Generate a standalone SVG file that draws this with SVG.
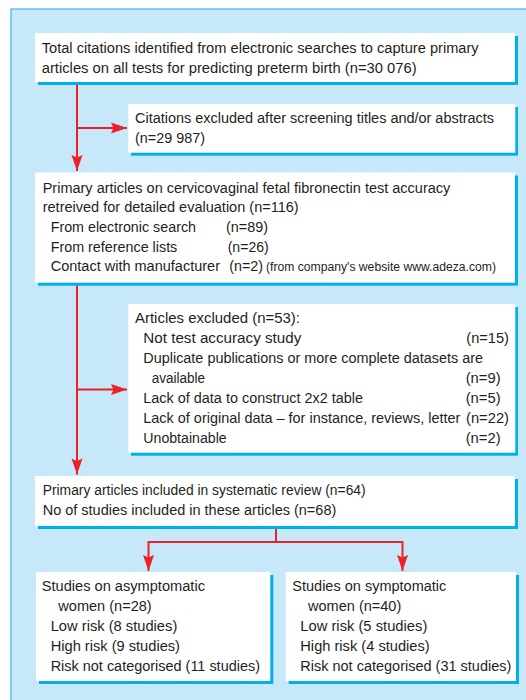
<svg xmlns="http://www.w3.org/2000/svg" width="526" height="700" viewBox="0 0 526 700">
<style>
.panel{fill:#c6e8f8;stroke:#3ab6ea;stroke-width:1.2}
.box{fill:#ffffff}
.sh{fill:#00b1e9}
.t{font-family:"Liberation Sans",Arial,sans-serif;font-size:15.5px;fill:#231f20}
.s{font-family:"Liberation Sans",Arial,sans-serif;font-size:12.5px;fill:#231f20}
.c{fill:none;stroke:#ec2028;stroke-width:2}
</style>
<defs>
<marker id="ah" markerUnits="userSpaceOnUse" markerWidth="18" markerHeight="14" viewBox="-17 -7 18 14" refX="0" refY="0" orient="auto">
<path d="M0,0 L-16,-5.5 L-13.5,0 L-16,5.5 Z" fill="#ec2028"/>
</marker>
</defs>
<rect class="panel" x="11" y="9" width="530" height="700"/>

<g id="connectors">
<path class="c" d="M77,82 V171" marker-end="url(#ah)"/>
<path class="c" d="M77,128 H127" marker-end="url(#ah)"/>
<path class="c" d="M77,283 V474.5" marker-end="url(#ah)"/>
<path class="c" d="M77,389.5 H127" marker-end="url(#ah)"/>
<path class="c" d="M276,526 V542 M148.5,542 H402.5"/>
<path class="c" d="M148.5,541 V571" marker-end="url(#ah)"/>
<path class="c" d="M402.5,541 V571" marker-end="url(#ah)"/>
</g>

<g id="n1">
<rect class="sh" x="38" y="36" width="480" height="49"/>
<rect class="box" x="35" y="33" width="480" height="49"/>
<text class="t" x="41.7" y="52.7" textLength="437" lengthAdjust="spacingAndGlyphs">Total citations identified from electronic searches to capture primary</text>
<text class="t" x="41.7" y="72.5" textLength="375" lengthAdjust="spacingAndGlyphs">articles on all tests for predicting preterm birth (n=30 076)</text>
</g>

<g id="n2">
<rect class="sh" x="131" y="107" width="387" height="48.7"/>
<rect class="box" x="128.3" y="104" width="387" height="48.7"/>
<text class="t" x="135" y="123.3" textLength="359" lengthAdjust="spacingAndGlyphs">Citations excluded after screening titles and/or abstracts</text>
<text class="t" x="135" y="142.8" textLength="70" lengthAdjust="spacingAndGlyphs">(n=29 987)</text>
</g>

<g id="n3">
<rect class="sh" x="38" y="175.5" width="480" height="110.2"/>
<rect class="box" x="35" y="172.5" width="480" height="110.2"/>
<text class="t" x="42.7" y="192.5" textLength="407.6" lengthAdjust="spacingAndGlyphs">Primary articles on cervicovaginal fetal fibronectin test accuracy</text>
<text class="t" x="42.7" y="212" textLength="256" lengthAdjust="spacingAndGlyphs">retreived for detailed evaluation (n=116)</text>
<text class="t" x="50.7" y="231.7" textLength="145.3" lengthAdjust="spacingAndGlyphs">From electronic search</text>
<text class="t" x="226" y="231.7" textLength="42" lengthAdjust="spacingAndGlyphs">(n=89)</text>
<text class="t" x="50.7" y="251.5" textLength="126.6" lengthAdjust="spacingAndGlyphs">From reference lists</text>
<text class="t" x="227.7" y="251.5" textLength="41" lengthAdjust="spacingAndGlyphs">(n=26)</text>
<text class="t" x="50.7" y="271.3" textLength="169.3" lengthAdjust="spacingAndGlyphs">Contact with manufacturer</text>
<text class="t" x="229.3" y="271.3" textLength="33.7" lengthAdjust="spacingAndGlyphs">(n=2)</text>
<text class="s" x="266" y="271.3" textLength="230" lengthAdjust="spacingAndGlyphs">(from company's website www.adeza.com)</text>
</g>

<g id="n4">
<rect class="sh" x="131" y="307" width="387" height="148.7"/>
<rect class="box" x="128.3" y="304" width="387" height="148.7"/>
<text class="t" x="135" y="323.3" textLength="165" lengthAdjust="spacingAndGlyphs">Articles excluded (n=53):</text>
<text class="t" x="143.3" y="343.3" textLength="158" lengthAdjust="spacingAndGlyphs">Not test accuracy study</text>
<text class="t" x="466.3" y="343.3" textLength="42.7" lengthAdjust="spacingAndGlyphs">(n=15)</text>
<text class="t" x="143.3" y="363.3" textLength="339.7" lengthAdjust="spacingAndGlyphs">Duplicate publications or more complete datasets are</text>
<text class="t" x="151.7" y="383.3" textLength="53.3" lengthAdjust="spacingAndGlyphs">available</text>
<text class="t" x="465.7" y="383.3" textLength="35" lengthAdjust="spacingAndGlyphs">(n=9)</text>
<text class="t" x="143.3" y="403.3" textLength="219.7" lengthAdjust="spacingAndGlyphs">Lack of data to construct 2x2 table</text>
<text class="t" x="465.7" y="403.3" textLength="35" lengthAdjust="spacingAndGlyphs">(n=5)</text>
<text class="t" x="143.3" y="423.3" textLength="317" lengthAdjust="spacingAndGlyphs" style="font-size:14.5px">Lack of original data – for instance, reviews, letter</text>
<text class="t" x="466" y="423.3" textLength="43" lengthAdjust="spacingAndGlyphs">(n=22)</text>
<text class="t" x="143.3" y="443.3" textLength="83.4" lengthAdjust="spacingAndGlyphs">Unobtainable</text>
<text class="t" x="465.7" y="443.3" textLength="35" lengthAdjust="spacingAndGlyphs">(n=2)</text>
</g>

<g id="n5">
<rect class="sh" x="38" y="479" width="480" height="50"/>
<rect class="box" x="35" y="476" width="480" height="50"/>
<text class="t" x="42.7" y="495" textLength="323" lengthAdjust="spacingAndGlyphs">Primary articles included in systematic review (n=64)</text>
<text class="t" x="42.7" y="514.5" textLength="293.6" lengthAdjust="spacingAndGlyphs">No of studies included in these articles (n=68)</text>
</g>

<g id="n6">
<rect class="sh" x="39" y="575" width="234.3" height="109"/>
<rect class="box" x="36" y="572" width="234.3" height="109"/>
<text class="t" x="41.7" y="590.7" textLength="163.3" lengthAdjust="spacingAndGlyphs">Studies on asymptomatic</text>
<text class="t" x="58.3" y="610.7" textLength="93.4" lengthAdjust="spacingAndGlyphs">women (n=28)</text>
<text class="t" x="50.7" y="630.7" textLength="126.6" lengthAdjust="spacingAndGlyphs">Low risk (8 studies)</text>
<text class="t" x="50.7" y="650.7" textLength="129.3" lengthAdjust="spacingAndGlyphs">High risk (9 studies)</text>
<text class="t" x="50.7" y="670.7" textLength="209.3" lengthAdjust="spacingAndGlyphs">Risk not categorised (11 studies)</text>
</g>

<g id="n7">
<rect class="sh" x="288.7" y="575" width="230.3" height="109"/>
<rect class="box" x="285.7" y="572" width="230.3" height="109"/>
<text class="t" x="292.3" y="590.7" textLength="154" lengthAdjust="spacingAndGlyphs">Studies on symptomatic</text>
<text class="t" x="308" y="610.7" textLength="93.3" lengthAdjust="spacingAndGlyphs">women (n=40)</text>
<text class="t" x="300.3" y="630.7" textLength="127" lengthAdjust="spacingAndGlyphs">Low risk (5 studies)</text>
<text class="t" x="300.3" y="650.7" textLength="129.4" lengthAdjust="spacingAndGlyphs">High risk (4 studies)</text>
<text class="t" x="300.3" y="670.7" textLength="211" lengthAdjust="spacingAndGlyphs">Risk not categorised (31 studies)</text>
</g>
</svg>
